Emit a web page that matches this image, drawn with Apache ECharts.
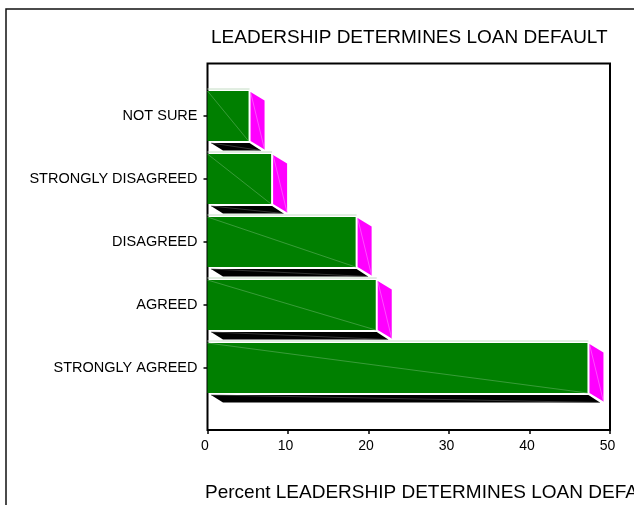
<!DOCTYPE html>
<html>
<head>
<meta charset="utf-8">
<style>html,body{margin:0;padding:0;background:#fff;overflow:hidden}#chart{width:634px;height:505px}</style>
<script src="https://cdn.jsdelivr.net/npm/echarts@6/dist/echarts.min.js"></script>
</head>
<body>
<div id="chart"></div>
<script>
const categories = ['STRONGLY AGREED', 'AGREED', 'DISAGREED', 'STRONGLY DISAGREED', 'NOT SURE'];
const percentValues = [47.2, 20.9, 18.4, 7.9, 5.1];
const percentTicks = [0, 10, 20, 30, 40, 50];
const chartTitle = 'LEADERSHIP DETERMINES LOAN DEFAULT';
const axisTitle = 'Percent LEADERSHIP DETERMINES LOAN DEFAULT';

const FONT = '"Liberation Sans", Arial, sans-serif';
const DEPTH_X = 14, DEPTH_Y = 8.5, GAP = 2;

// One extruded bar: front face, side face and floor shadow, each with its diagonal seam.
function renderBar(params, api) {
  const index = api.value(1);
  const origin = api.coord([0, index]);
  const end = api.coord([api.value(0), index]);
  const h = api.size([0, 1])[1] * 50 / 63;
  const x0 = origin[0], x1 = end[0];
  const top = end[1] - h / 2, bot = end[1] + h / 2;
  const seam = (a, b, color) => ({
    type: 'line', silent: true,
    shape: { x1: a[0], y1: a[1], x2: b[0], y2: b[1] },
    style: { stroke: color, lineWidth: 0.6 }
  });
  const sx = x1 + GAP, fy = bot + GAP;
  return {
    type: 'group',
    children: [
      { type: 'line', shape: { x1: x0, y1: top - 2, x2: x1 + 1, y2: top - 2 }, style: { stroke: '#c4dcc4', lineWidth: 1 } },
      { type: 'rect', shape: { x: x0, y: top, width: x1 - x0, height: h }, style: { fill: '#007f00' } },
      seam([x0, top], [x1, bot], '#5fae5f'),
      { type: 'polygon', shape: { points: [[sx, top + 1], [sx + DEPTH_X, top + 1 + DEPTH_Y], [sx + DEPTH_X, bot + DEPTH_Y], [sx, bot]] }, style: { fill: '#ff00ff' } },
      seam([sx, top + 1], [sx + DEPTH_X, bot + DEPTH_Y], '#ff80ff'),
      { type: 'polygon', shape: { points: [[x0 + 3.5, fy], [x1 + 1, fy], [x1 + 12.5, fy + 7.5], [x0 + 15.5, fy + 7.5]] }, style: { fill: '#000' } },
      seam([x0 + 3.5, fy], [x1 + 12.5, fy + 7.5], '#555')
    ]
  };
}

const chart = echarts.init(document.getElementById('chart'), null, { renderer: 'canvas' });
chart.setOption({
  animation: false,
  backgroundColor: '#fff',
  title: [
    { text: chartTitle, left: 206, top: 23, textStyle: { fontFamily: FONT, fontSize: 19, fontWeight: 'normal', color: '#000' } },
    { text: axisTitle, left: 200, top: 478, textStyle: { fontFamily: FONT, fontSize: 19, fontWeight: 'normal', color: '#000' } }
  ],
  graphic: [
    { type: 'rect', x: 6, y: 9, shape: { width: 700, height: 600 }, style: { fill: 'none', stroke: '#111', lineWidth: 1.5 }, silent: true }
  ],
  grid: [
    { left: 207.5, right: 24, top: 63.5, bottom: 75, show: true, backgroundColor: 'transparent', borderColor: '#000', borderWidth: 2 },
    { left: 207.5, right: 24, top: 84.5, bottom: 105.5 }
  ],
  xAxis: [
    {
      type: 'value', gridIndex: 0, min: 0, max: 50, interval: 10,
      splitLine: { show: false },
      axisLine: { show: false },
      axisTick: { show: true, length: 4, lineStyle: { color: '#000', width: 1.5 } },
      axisLabel: {
        margin: 9, padding: [0, 5, 0, 0], color: '#000', fontFamily: FONT, fontSize: 14,
        customValues: percentTicks
      }
    },
    { type: 'value', gridIndex: 1, min: 0, max: 50, show: false }
  ],
  yAxis: [
    { type: 'value', gridIndex: 0, min: 0, max: 1, show: false },
    {
      type: 'category', gridIndex: 1, data: categories,
      axisLine: { show: false },
      axisTick: { show: true, alignWithLabel: true, length: 4, lineStyle: { color: '#000', width: 1.5 } },
      axisLabel: { margin: 10, padding: [0, 0, 6, 0], color: '#000', fontFamily: FONT, fontSize: 14.5 }
    }
  ],
  series: [{
    type: 'custom',
    xAxisIndex: 1, yAxisIndex: 1,
    clip: false,
    encode: { x: 0, y: 1 },
    data: percentValues.map((v, i) => [v, i]),
    renderItem: renderBar
  }]
});
</script>
</body>
</html>
